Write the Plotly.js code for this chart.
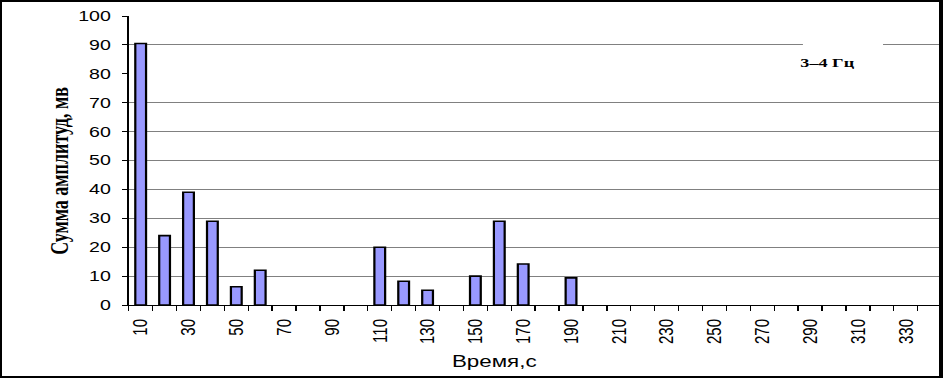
<!DOCTYPE html>
<html>
<head>
<meta charset="utf-8">
<script src="https://cdn.plot.ly/plotly-3.0.1.min.js"></script>
<style>
  html, body { margin: 0; padding: 0; background: #fff; }
  #wrap { position: relative; width: 943px; height: 378px; overflow: hidden; background: #fff; }
  #plot { position: absolute; left: 0; top: 0; width: 674px; height: 378px; transform: scale(1.39911, 1); transform-origin: 0 0; }
  #frame { position: absolute; left: 0; top: 0; width: 943px; height: 378px; box-sizing: border-box;
           border-left: 2px solid #000; border-top: 2px solid #000; border-right: 4px solid #000; border-bottom: 2px solid #000;
           pointer-events: none; }
</style>
</head>
<body>
<div id="wrap">
  <div id="plot"></div>
  <div id="frame"></div>
</div>
<script>
// Data
const timeSec = [10, 20, 30, 40, 50, 60, 110, 120, 130, 150, 160, 170, 190];
const ampSum  = [90.5, 24, 39, 29, 6.3, 12, 20, 8.2, 5.1, 10, 29, 14.2, 9.4];
const xTickVals = [10, 30, 50, 70, 90, 110, 130, 150, 170, 190, 210, 230, 250, 270, 290, 310, 330];
const xTickText = xTickVals.map(String);
const yTickVals = [0, 10, 20, 30, 40, 50, 60, 70, 80, 90, 100];
const yGridVals = [10, 20, 30, 40, 50, 60, 70, 90, 100];
const seriesLabel = '3–4 Гц';
const xTitle = 'Время,с';
const yTitle = 'Сумма амплитуд, мв';

const trace = {
  type: 'bar',
  x: timeSec,
  y: ampSum,
  marker: { color: '#9999FF', line: { color: '#000000', width: 1.6 } },
  hoverinfo: 'x+y'
};

const layout = {
  width: 674,
  height: 378,
  margin: { l: 92, r: 1, t: 16, b: 73, pad: 0 },
  paper_bgcolor: 'rgba(0,0,0,0)',
  plot_bgcolor: '#ffffff',
  showlegend: false,
  bargap: 0.55,
  font: { family: 'Liberation Sans, Arial, sans-serif', color: '#000' },
  xaxis: {
    range: [5, 345],
    tickmode: 'array',
    tickvals: xTickVals,
    ticktext: xTickText,
    ticks: '',
    tickangle: -90,
    ticklabelstandoff: 7,
    tickfont: { family: 'Liberation Sans, Arial, sans-serif', size: 15, color: '#000' },
    showgrid: false,
    zeroline: false,
    showline: true,
    linecolor: '#000',
    linewidth: 1,
    automargin: false,
    minor: { tickmode: 'linear', tick0: 5, dtick: 10, ticks: 'outside', ticklen: 5, tickcolor: '#000', tickwidth: 1, showgrid: false }
  },
  yaxis: {
    range: [0, 100],
    tickmode: 'array',
    tickvals: yTickVals,
    ticks: 'outside',
    ticklen: 4,
    tickcolor: '#000',
    tickwidth: 1,
    ticklabelstandoff: 5,
    tickfont: { family: 'Liberation Sans, Arial, sans-serif', size: 14, color: '#000' },
    showgrid: false,
    zeroline: false,
    showline: true,
    linecolor: '#000',
    linewidth: 1,
    automargin: false,
    minor: { tickmode: 'array', tickvals: yGridVals, ticks: '', showgrid: true, gridcolor: '#808080', gridwidth: 1 }
  },
  shapes: [
    { type: 'rect', xref: 'x', yref: 'y', x0: 287, x1: 320.5, y0: 87.5, y1: 92.5,
      fillcolor: '#ffffff', line: { width: 0 }, layer: 'above' }
  ],
  annotations: [
    { text: '<b>' + seriesLabel + '</b>', xref: 'x', yref: 'y', x: 297.5, y: 84, showarrow: false,
      font: { family: 'Liberation Serif, Times New Roman, serif', size: 13, color: '#000' },
      xanchor: 'center', yanchor: 'middle' },
    { text: xTitle, xref: 'paper', yref: 'paper', x: 0.4506, y: -0.197, showarrow: false,
      font: { family: 'Liberation Sans, Arial, sans-serif', size: 16, color: '#000' },
      xanchor: 'center', yanchor: 'middle' },
    { text: '<b>' + yTitle + '</b>', xref: 'paper', yref: 'paper', x: -0.0845, y: 0.4637, showarrow: false,
      textangle: -90,
      font: { family: 'Liberation Serif, Times New Roman, serif', size: 18, color: '#000' },
      xanchor: 'center', yanchor: 'middle' }
  ]
};

Plotly.newPlot('plot', [trace], layout, { staticPlot: true, displayModeBar: false });
</script>
</body>
</html>
